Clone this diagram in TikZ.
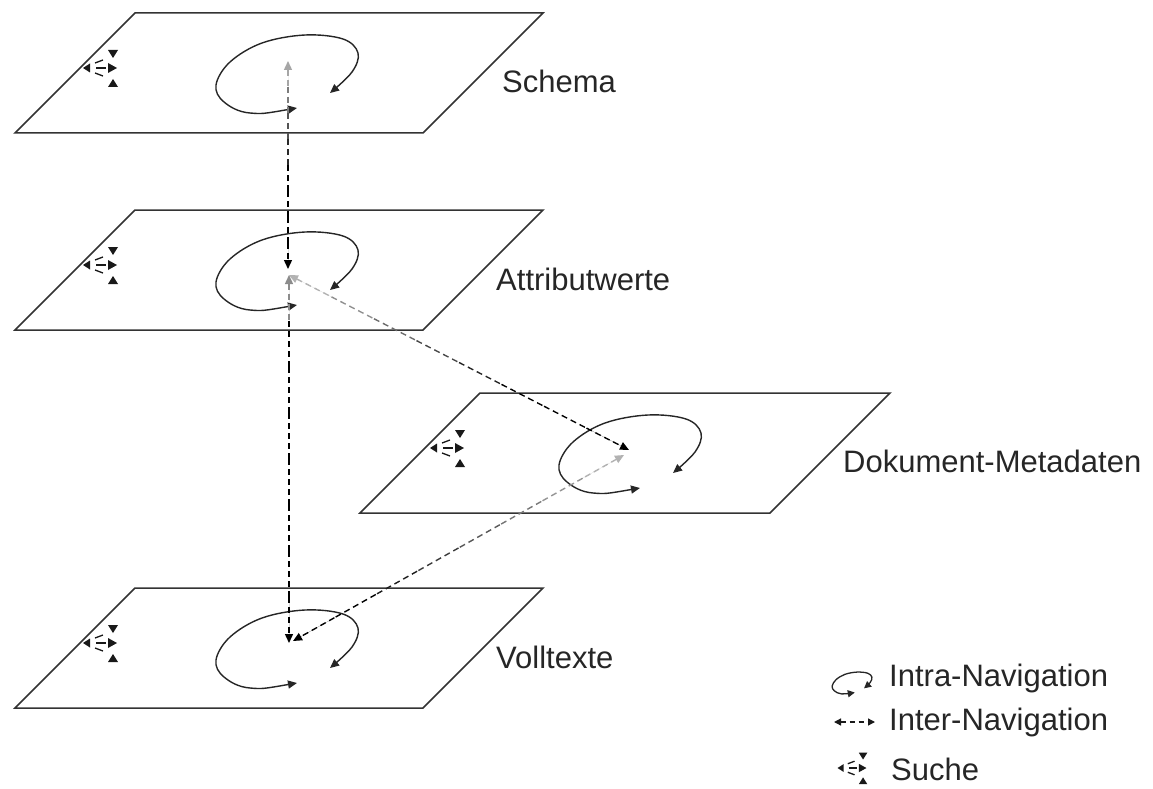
\documentclass[tikz,border=0pt]{standalone}
\usepackage{fontspec}
\setmainfont{Liberation Sans}
\usetikzlibrary{arrows.meta,calc}

\tikzset{
  plane/.style={draw=black!80, line width=1.5pt, fill=white, line join=miter},
  intra/.style={draw=black!85, line width=1.4pt,
    {Triangle[length=9pt,width=8pt]}-{Triangle[length=9pt,width=8pt]}},
  conn/.style={line width=1.4pt, dash pattern=on 6pt off 4pt},
  lbl/.style={anchor=base west, inner sep=0pt, font=\fontsize{31}{36}\selectfont, text=black!85},
  icotip/.style={fill=black!90, draw=none},
  icodash/.style={draw=black!90, line width=1.3pt},
}
\newcommand\intraloop{plot[smooth,tension=0.6] coordinates {(297,108) (250,113) (224,102) (216,85) (230,62) (262,43) (305,35) (343,39) (358,53) (352,72) (330,93)}}
\newcommand\searchicon{%
  \path[icotip] (-17,0) -- (-10,-4.5) -- (-10,4.5) -- cycle;
  \path[icotip] (8,-18) -- (18,-18) -- (13,-10) -- cycle;
  \path[icotip] (8,-5) -- (17,0) -- (8,5) -- cycle;
  \path[icotip] (8,19) -- (18,19) -- (13,11) -- cycle;
  \draw[icodash] (-5,-5) -- (3,-8);
  \draw[icodash] (-4,0) -- (6,0);
  \draw[icodash] (-5,5) -- (3,8);
}
\newcommand\gradline[4]{%
  \foreach \i in {0,...,7}{%
    \pgfmathsetmacro\cc{min(100,#3+(100-#3)*\i/#4)}%
    \pgfmathsetmacro\ta{\i/8}%
    \pgfmathsetmacro\tb{(\i+1)/8}%
    \ifnum\i=0
      \draw[conn, draw=black!\cc, fill=black!\cc, {Triangle[length=9pt,width=8pt]}-] ($(#1)!\ta!(#2)$) -- ($(#1)!\tb!(#2)$);
    \else\ifnum\i=7
      \draw[conn, draw=black!\cc, fill=black!\cc, -{Triangle[length=9pt,width=8pt]}] ($(#1)!\ta!(#2)$) -- ($(#1)!\tb!(#2)$);
    \else
      \draw[conn, draw=black!\cc] ($(#1)!\ta!(#2)$) -- ($(#1)!\tb!(#2)$);
    \fi\fi
  }%
}

\begin{document}
\begin{tikzpicture}[x=1pt,y=-1pt]
\useasboundingbox[fill=white] (0,0) rectangle (1153,789);

% planes
\draw[plane] (15,133) -- (135,13) -- (543,13) -- (423,133) -- cycle;
\draw[plane] (15,330) -- (135,210) -- (543,210) -- (423,330) -- cycle;
\draw[plane] (360,513) -- (480,393) -- (890,393) -- (770,513) -- cycle;
\draw[plane] (15,708) -- (135,588) -- (543,588) -- (423,708) -- cycle;

% labels
\node[lbl] (schema) at (502,93) {Schema};
\node[lbl] (attr) at (496,290) {Attributwerte};
\node[lbl] (doku) at (843,472) {Dokument-Metadaten};
\node[lbl] (voll) at (496,668) {Volltexte};

% intra loops
\draw[intra] \intraloop;
\begin{scope}[shift={(0,197)}] \draw[intra] \intraloop; \end{scope}
\begin{scope}[shift={(343,380)}] \draw[intra] \intraloop; \end{scope}
\begin{scope}[shift={(0,575)}] \draw[intra] \intraloop; \end{scope}

% search icons
\begin{scope}[shift={(100,68)}] \searchicon \end{scope}
\begin{scope}[shift={(100,265)}] \searchicon \end{scope}
\begin{scope}[shift={(447,448)}] \searchicon \end{scope}
\begin{scope}[shift={(100,643)}] \searchicon \end{scope}

% inter-navigation connectors
\coordinate (p1) at (288,61);
\coordinate (p2a) at (288,269);
\coordinate (p2) at (289,275);
\coordinate (p3) at (629,450);
\coordinate (p3b) at (624,455);
\coordinate (p4) at (289,643);
\coordinate (p4b) at (293,641);
\gradline{p1}{p2a}{35}{4}
\gradline{p2}{p4}{45}{1}
\gradline{p2}{p3}{30}{5}
\gradline{p3b}{p4b}{30}{6}

% legend
\begin{scope}[shift={(852,683)}, scale=0.28, shift={(-287,-74)}]
  \draw[draw=black!85, line width=1.3pt, {Triangle[length=7pt,width=7pt]}-{Triangle[length=7pt,width=7pt]}] \intraloop;
\end{scope}
\node[lbl] (lintra) at (889,686) {Intra-Navigation};
\coordinate (la) at (834,722);
\coordinate (lb) at (875,722);
\draw[draw=black!90, line width=1.3pt, dash pattern=on 5pt off 4pt, {Triangle[length=7pt,width=7pt]}-{Triangle[length=7pt,width=7pt]}] (la) -- (lb);
\node[lbl] (linter) at (889,730) {Inter-Navigation};
\begin{scope}[shift={(852,768)}, scale=0.85] \searchicon \end{scope}
\node[lbl] (lsuche) at (891,780) {Suche};
\end{tikzpicture}
\end{document}
